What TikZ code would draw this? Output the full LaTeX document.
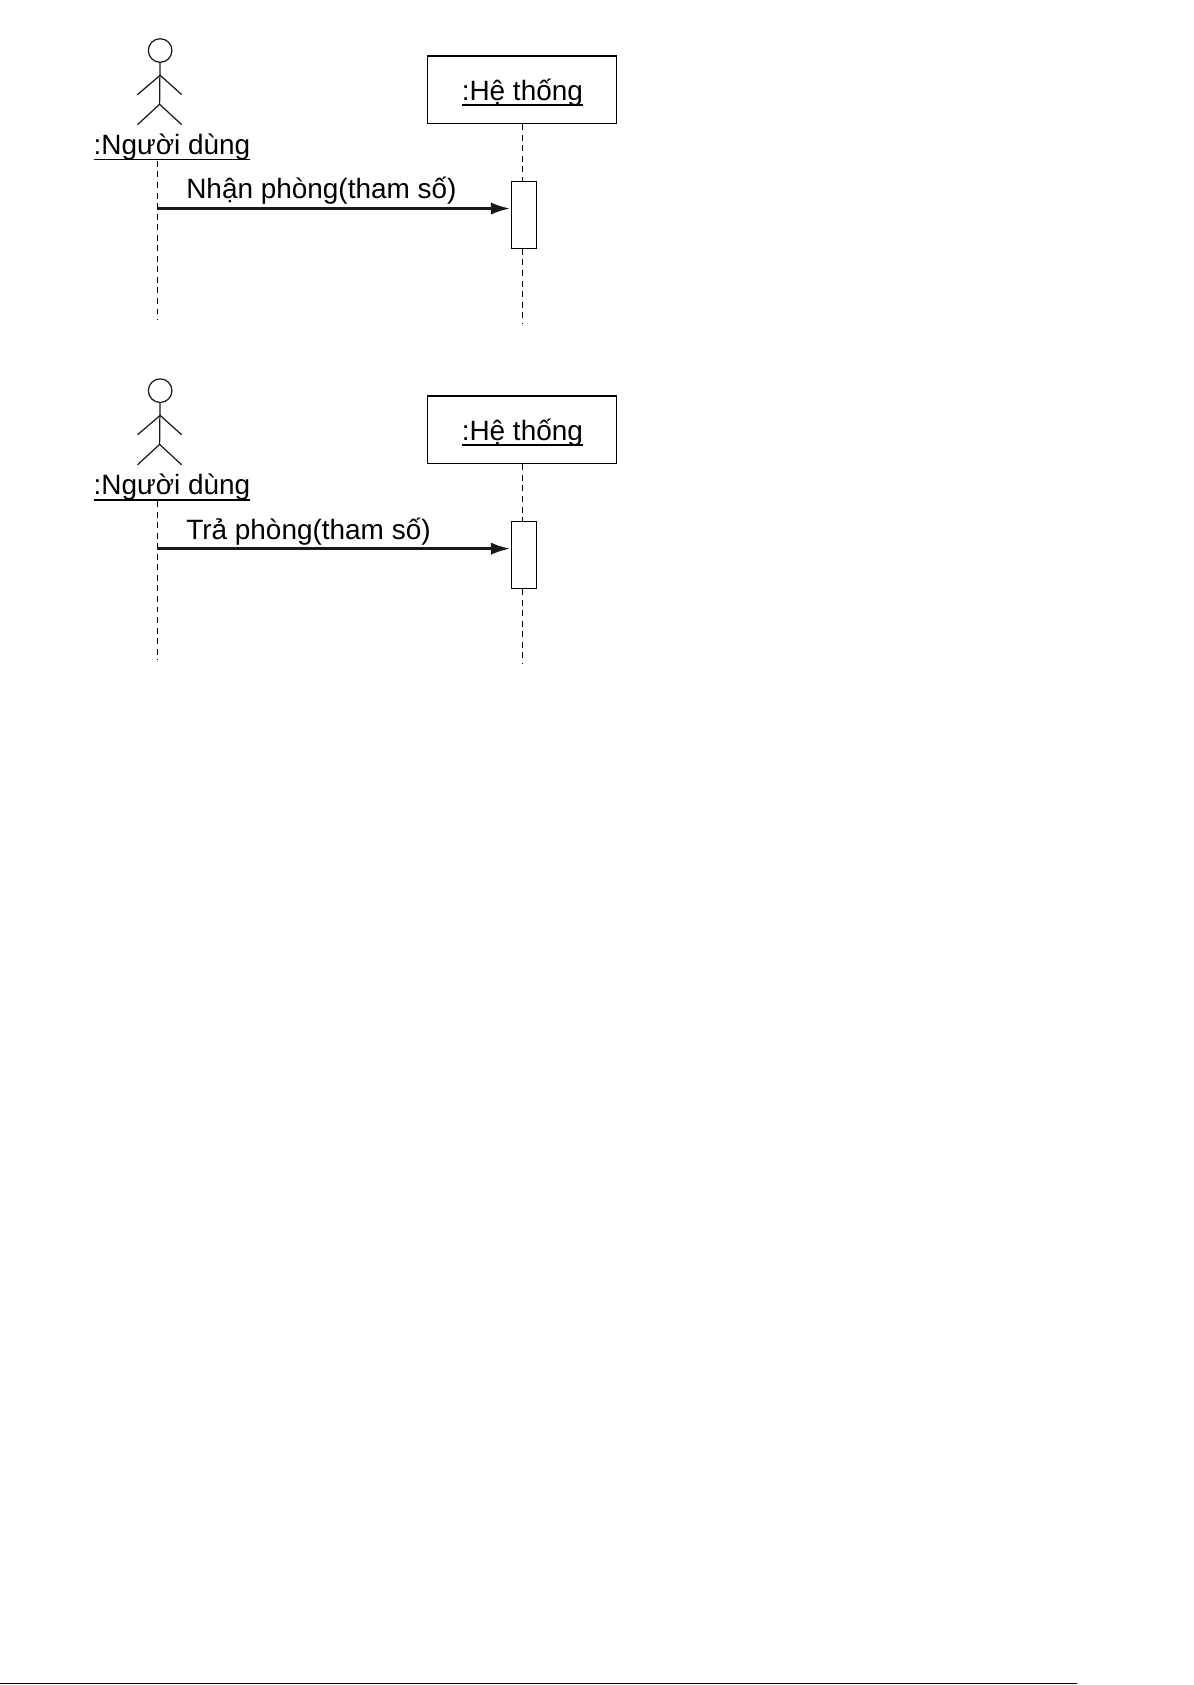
\documentclass[tikz,border=0pt]{standalone}
\usepackage{fontspec}
\setmainfont{Liberation Sans}
\usetikzlibrary{arrows.meta,positioning}
\newcommand{\ulabel}[1]{\setbox0=\hbox{#1}\rlap{\rule[-3.2pt]{\wd0}{0.9pt}}\box0}

\begin{document}
\begin{tikzpicture}[
    actorline/.style={line width=0.7pt,black!90},
    objbox/.style={draw,rectangle,line width=0.7pt,minimum width=3.78cm,minimum height=1.354cm,align=center,text height=0.53cm,text depth=0.12cm,font=\fontsize{15.9}{18}\selectfont},
    actorname/.style={font=\fontsize{15.9}{18}\selectfont,inner sep=0pt},
    msg/.style={font=\fontsize{15.9}{18}\selectfont,anchor=base west,inner sep=0pt},
    activation/.style={draw,rectangle,line width=0.7pt,minimum width=0.494cm,minimum height=1.333cm,inner sep=0pt},
    lifeline/.style={line width=0.7pt,dash pattern=on 3.4pt off 2.6pt},
    call/.style={-{Latex[length=11pt,width=7pt]},line width=1.5pt,black!90}
  ]
    \useasboundingbox (0,0) rectangle (23.86,-33.7);

    % Diagram 1: check-in
    \node[circle,draw,actorline,minimum size=0.472cm,inner sep=0pt] (head1) at (3.203,-1.010) {};
    \coordinate (hip1) at (3.192,-2.085);
    \coordinate (shoulder1) at (3.203,-1.505);
    \coordinate (handl1) at (2.751,-1.892);
    \coordinate (handr1) at (3.633,-1.892);
    \coordinate (footl1) at (2.751,-2.493);
    \coordinate (footr1) at (3.633,-2.493);
    \draw[actorline] (head1) -- (hip1);
    \draw[actorline] (handl1) -- (shoulder1) -- (handr1);
    \draw[actorline] (footl1) -- (hip1) -- (footr1);
    \node[actorname,anchor=base] (user1) at (3.439,-3.095) {\ulabel{:Người dùng}};
    \node[objbox] (sys1) at (10.447,-1.795) {\ulabel{:Hệ thống}};
    \node[activation] (act1) at (10.479,-4.299) {};
    \coordinate (userend1) at (3.149,-6.40);
    \coordinate (sysend1) at (10.447,-6.47);
    \coordinate (from1) at (3.149,-4.170);
    \coordinate (to1) at (10.205,-4.170);
    \draw[lifeline] (userend1 |- user1.south) -- (userend1);
    \draw[lifeline] (sys1.south) -- (sys1.south |- act1.north);
    \draw[lifeline] (sys1.south |- act1.south) -- (sysend1);
    \draw[call] (from1) -- (to1);
    \node[msg] (call1) at (3.719,-3.977) {Nhận phòng(tham số)};

    % Diagram 2: check-out
    \node[circle,draw,actorline,minimum size=0.472cm,inner sep=0pt] (head2) at (3.203,-7.813) {};
    \coordinate (hip2) at (3.192,-8.888);
    \coordinate (shoulder2) at (3.203,-8.308);
    \coordinate (handl2) at (2.751,-8.695);
    \coordinate (handr2) at (3.633,-8.695);
    \coordinate (footl2) at (2.751,-9.296);
    \coordinate (footr2) at (3.633,-9.296);
    \draw[actorline] (head2) -- (hip2);
    \draw[actorline] (handl2) -- (shoulder2) -- (handr2);
    \draw[actorline] (footl2) -- (hip2) -- (footr2);
    \node[actorname,anchor=base] (user2) at (3.439,-9.898) {\ulabel{:Người dùng}};
    \node[objbox] (sys2) at (10.447,-8.598) {\ulabel{:Hệ thống}};
    \node[activation] (act2) at (10.479,-11.102) {};
    \coordinate (userend2) at (3.149,-13.203);
    \coordinate (sysend2) at (10.447,-13.273);
    \coordinate (from2) at (3.149,-10.973);
    \coordinate (to2) at (10.205,-10.973);
    \draw[lifeline] (userend2 |- user2.south) -- (userend2);
    \draw[lifeline] (sys2.south) -- (sys2.south |- act2.north);
    \draw[lifeline] (sys2.south |- act2.south) -- (sysend2);
    \draw[call] (from2) -- (to2);
    \node[msg] (call2) at (3.719,-10.780) {Trả phòng(tham số)};

    % Page rule at the bottom
    \coordinate (ruleL) at (0,-33.67);
    \coordinate (ruleR) at (21.54,-33.67);
    \draw[line width=0.85pt] (ruleL) -- (ruleR);
  \end{tikzpicture}
\end{document}
